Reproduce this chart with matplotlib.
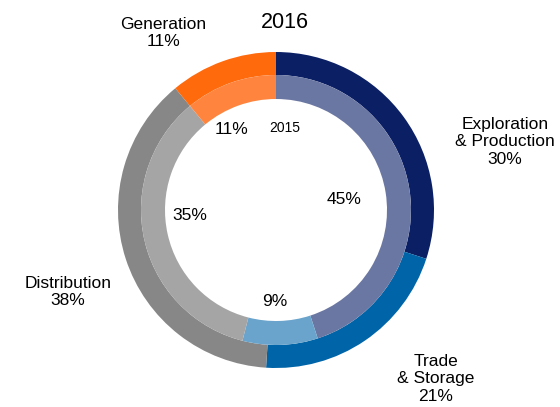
import matplotlib

matplotlib.use("Agg")
import matplotlib.pyplot as plt

plt.rcParams["font.family"] = ["Liberation Sans", "DejaVu Sans"]

segments = ["Exploration\n& Production", "Trade\n& Storage", "Distribution", "Generation"]
share_2016 = [30, 21, 38, 11]
share_2015 = [45, 9, 35, 11]
outer_colors = ["#0b1f65", "#0065a8", "#878787", "#ff6a0d"]
inner_colors = ["#6b77a3", "#6aa4cc", "#a5a5a5", "#ff853f"]

W, H = 560, 407
fig = plt.figure(figsize=(W / 100, H / 100), dpi=100)
ax = fig.add_axes([0, 0, 1, 1])

cx, cy = 276, H - 210
r_out, r_mid, r_in = 158, 135, 111

ax.pie(share_2016, radius=r_out, center=(cx, cy), colors=outer_colors,
       startangle=90, counterclock=False,
       wedgeprops=dict(width=r_out - r_mid, linewidth=0))
ax.pie(share_2015, radius=r_mid, center=(cx, cy), colors=inner_colors,
       startangle=90, counterclock=False,
       wedgeprops=dict(width=r_mid - r_in, linewidth=0))

ax.set_xlim(0, W)
ax.set_ylim(0, H)
ax.set_aspect("equal", adjustable="datalim")
ax.axis("off")

def px(x, y):
    return x, H - y

# outer ring (2016) labels
outer_pos = [(505, 142), (436, 379), (68, 292), (163, 33)]
for name, val, (x, y) in zip(segments, share_2016, outer_pos):
    ax.text(*px(x, y), f"{name}\n{val}%", ha="center", va="center",
            fontsize=12.5, linespacing=1.2, color="#000000")

# inner ring (2015) labels
inner_pos = [(344, 200), (275, 302), (190, 215), (232, 130)]
for val, (x, y) in zip(share_2015, inner_pos):
    ax.text(*px(x, y), f"{val}%", ha="center", va="center",
            fontsize=12.5, color="#000000")

ax.text(*px(285, 22), "2016", ha="center", va="center", fontsize=15.5, color="#000000")
ax.text(*px(285, 128), "2015", ha="center", va="center", fontsize=10, color="#000000")

fig.savefig("out.png", dpi=100, facecolor="white")
